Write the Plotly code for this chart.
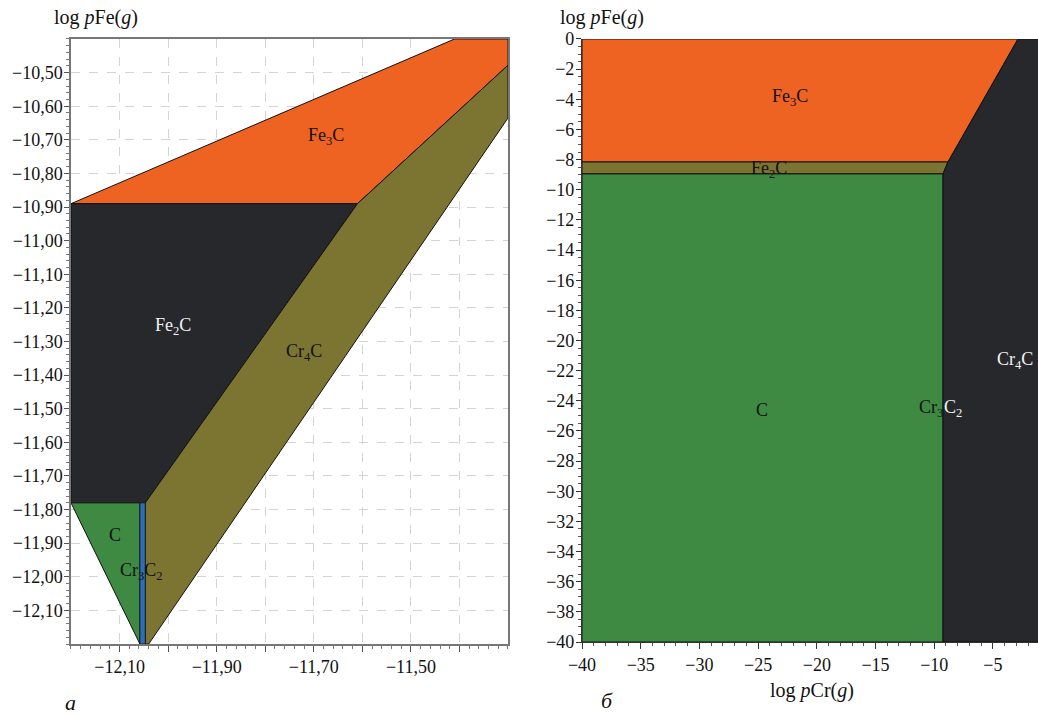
import plotly.graph_objects as go
import numpy as np

# ---------------- data: panel (a) ----------------
A_X_RANGE = [-12.2, -11.3]
A_Y_RANGE = [-12.2, -10.4]
a_fe3c_x = [-12.2, -11.41, -11.3, -11.3, -11.61]
a_fe3c_y = [-10.89, -10.4, -10.4, -10.478, -10.89]
a_fe2c_x = [-12.2, -11.61, -12.047, -12.2]
a_fe2c_y = [-10.89, -10.89, -11.78, -11.78]
a_cr4c_x = [-11.61, -11.3, -11.3, -12.04, -12.047, -12.047]
a_cr4c_y = [-10.89, -10.478, -10.635, -12.2, -12.2, -11.78]
a_c_x = [-12.2, -12.058, -12.058]
a_c_y = [-11.78, -11.78, -12.2]
a_cr3c2_x = [-12.058, -12.047, -12.047, -12.058]
a_cr3c2_y = [-11.78, -11.78, -12.2, -12.2]
a_xtick_vals = [-12.1, -12.0, -11.9, -11.8, -11.7, -11.6, -11.5, -11.4]
a_xtick_text = ["−12,10", "", "−11,90", "", "−11,70", "", "−11,50", ""]
a_ytick_vals = [-10.5, -10.6, -10.7, -10.8, -10.9, -11.0, -11.1, -11.2, -11.3,
                -11.4, -11.5, -11.6, -11.7, -11.8, -11.9, -12.0, -12.1]
a_ytick_text = ["−10,50", "−10,60", "−10,70", "−10,80", "−10,90", "−11,00",
                "−11,10", "−11,20", "−11,30", "−11,40", "−11,50", "−11,60",
                "−11,70", "−11,80", "−11,90", "−12,00", "−12,10"]

# ---------------- data: panel (б) ----------------
B_X_RANGE = [-40, -1.16]
B_Y_RANGE = [-40, 0]
b_fe3c_x = [-40, -2.86, -8.83, -40]
b_fe3c_y = [0, 0, -8.16, -8.16]
b_fe2c_x = [-40, -8.83, -9.25, -40]
b_fe2c_y = [-8.16, -8.16, -8.95, -8.95]
b_c_x = [-40, -9.25, -9.25, -40]
b_c_y = [-8.95, -8.95, -40, -40]
b_cr4c_x = [-2.86, 0, 0, -9.25, -9.25, -8.83]
b_cr4c_y = [0, 0, -40, -40, -8.95, -8.16]
b_xtick_vals = [-40, -35, -30, -25, -20, -15, -10, -5]
b_xtick_text = ["−40", "−35", "−30", "−25", "−20", "−15", "−10", "−5"]
b_ytick_vals = list(range(0, -42, -2))
b_ytick_text = ["0"] + ["−%d" % (-v) for v in b_ytick_vals[1:]]

ORANGE = "#EF6322"
DARK = "#27282B"
OLIVE = "#7B7531"
GREEN = "#3E8A42"
BLUE = "#2F6DB5"
EDGE = "#111111"
FONT = "Liberation Serif"

fig = go.Figure()

def poly(x, y, color, xa, ya, lw=1.0):
    fig.add_trace(go.Scatter(x=x + [x[0]], y=y + [y[0]], mode="lines", fill="toself",
                             fillcolor=color, line=dict(color=EDGE, width=lw),
                             xaxis=xa, yaxis=ya, hoverinfo="skip", showlegend=False))

poly(a_fe3c_x, a_fe3c_y, ORANGE, "x", "y")
poly(a_fe2c_x, a_fe2c_y, DARK, "x", "y")
poly(a_cr4c_x, a_cr4c_y, OLIVE, "x", "y")
poly(a_c_x, a_c_y, GREEN, "x", "y")
poly(a_cr3c2_x, a_cr3c2_y, BLUE, "x", "y", 0.8)

poly(b_fe3c_x, b_fe3c_y, ORANGE, "x2", "y2")
poly(b_fe2c_x, b_fe2c_y, OLIVE, "x2", "y2")
poly(b_c_x, b_c_y, GREEN, "x2", "y2")
poly(b_cr4c_x, b_cr4c_y, DARK, "x2", "y2")

tickfont = dict(family=FONT, size=18, color="#111")

fig.update_layout(
    width=1038, height=714,
    margin=dict(l=0, r=0, t=0, b=0, autoexpand=False),
    paper_bgcolor="white", plot_bgcolor="white",
    xaxis=dict(domain=[0.0684, 0.4894], range=A_X_RANGE, anchor="y", automargin=False,
               tickmode="array", tickvals=a_xtick_vals, ticktext=a_xtick_text,
               ticks="outside", ticklen=6, tickcolor="#555", tickfont=tickfont,
               showgrid=True, gridcolor="#d4d4d4", griddash="dash", gridwidth=1,
               minor=dict(tickmode="linear", tick0=-12.2, dtick=0.02, ticks="outside",
                          ticklen=3, tickcolor="#777", showgrid=False),
               showline=True, linecolor="#777", linewidth=1.5, mirror=True,
               zeroline=False),
    yaxis=dict(domain=[0.098, 0.9454], range=A_Y_RANGE, anchor="x", automargin=False,
               tickmode="array", tickvals=a_ytick_vals, ticktext=a_ytick_text,
               ticks="outside", ticklen=5, tickcolor="#555", tickfont=tickfont,
               ticklabelstandoff=-2,
               showgrid=True, gridcolor="#d4d4d4", griddash="dash", gridwidth=1,
               minor=dict(tickmode="linear", tick0=-12.2, dtick=0.02, ticks="outside",
                          ticklen=3, tickcolor="#777", showgrid=False),
               showline=True, linecolor="#777", linewidth=1.5, mirror=True,
               zeroline=False),
    xaxis2=dict(domain=[0.5607, 1.0], range=B_X_RANGE, anchor="y2", automargin=False,
                tickmode="array", tickvals=b_xtick_vals, ticktext=b_xtick_text,
                ticks="outside", ticklen=6, tickcolor="#333", tickfont=tickfont,
                showgrid=False,
                minor=dict(tickmode="linear", tick0=-40, dtick=1, ticks="outside",
                           ticklen=3, tickcolor="#555", showgrid=False),
                showline=True, linecolor="#333", linewidth=1.2, zeroline=False),
    yaxis2=dict(domain=[0.1008, 0.9454], range=B_Y_RANGE, anchor="x2", automargin=False,
                tickmode="array", tickvals=b_ytick_vals, ticktext=b_ytick_text,
                ticks="outside", ticklen=5, tickcolor="#333", tickfont=tickfont,
                ticklabelstandoff=-2,
                showgrid=False,
                minor=dict(tickmode="linear", tick0=-40, dtick=0.5, ticks="outside",
                           ticklen=3, tickcolor="#555", showgrid=False),
                showline=True, linecolor="#333", linewidth=1.2, zeroline=False),
)

def note(x, y, text, xa, ya, color="#111", xanchor="center", size=18, xshift=0):
    fig.add_annotation(x=x, y=y, xref=xa, yref=ya, text=text, showarrow=False,
                       xanchor=xanchor, yanchor="middle", xshift=xshift,
                       font=dict(family=FONT, size=size, color=color))

# panel (a) labels
note(-11.674, -10.69, "Fe<sub>3</sub>C", "x", "y")
note(-11.99, -11.254, "Fe<sub>2</sub>C", "x", "y", color="#f2f2f2")
note(-11.72, -11.334, "Cr<sub>4</sub>C", "x", "y")
note(-12.11, -11.875, "C", "x", "y")
note(-12.054, -11.985, "Cr<sub>3</sub>C<sub>2</sub>", "x", "y")

# panel (б) labels
note(-22.3, -3.85, "Fe<sub>3</sub>C", "x2", "y2")
note(-24.1, -8.65, "Fe<sub>2</sub>C", "x2", "y2")
note(-24.7, -24.6, "C", "x2", "y2")
note(-9.25, -24.5, "Cr<sub>3</sub>", "x2", "y2", xanchor="right", xshift=2)
note(-9.25, -24.5, "C<sub>2</sub>", "x2", "y2", color="#f2f2f2", xanchor="left", xshift=-1)
note(-3.1, -21.3, "Cr<sub>4</sub>C", "x2", "y2", color="#f2f2f2")

# axis titles and panel letters (paper coords)
def ptext(x, y, text, size=19, xanchor="center"):
    fig.add_annotation(x=x, y=y, xref="paper", yref="paper", text=text, showarrow=False,
                       xanchor=xanchor, yanchor="middle",
                       font=dict(family=FONT, size=size, color="#111"))

ptext(52 / 1038, 1 - 17 / 714, "log <i>p</i>Fe(<i>g</i>)", size=20, xanchor="left")
ptext(558 / 1038, 1 - 17 / 714, "log <i>p</i>Fe(<i>g</i>)", size=20, xanchor="left")
ptext(812 / 1038, 1 - 690 / 714, "log <i>p</i>Cr(<i>g</i>)", size=20)
ptext(70 / 1038, 1 - 702 / 714, "<i>a</i>", size=22)
ptext(607 / 1038, 1 - 700 / 714, "<i>б</i>", size=22)

fig.write_html("out.html", config={"displayModeBar": False},
               post_script="document.body.style.margin='0';document.body.style.overflow='hidden';")
